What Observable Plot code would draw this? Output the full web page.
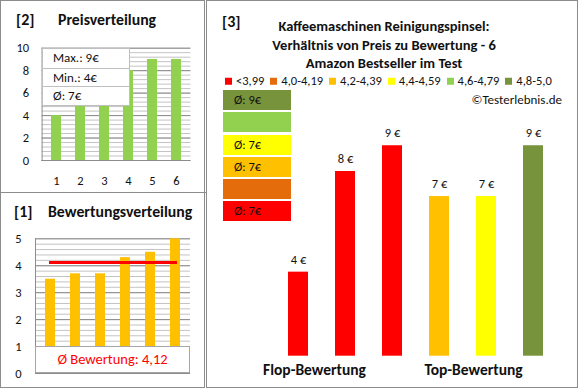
<!DOCTYPE html>
<html><head><meta charset="utf-8">
<script src="https://cdn.jsdelivr.net/npm/d3@7"></script>
<script src="https://cdn.jsdelivr.net/npm/@observablehq/plot@0.6"></script>
<style>
body{margin:0;background:#fff;}
#chart{position:relative;width:580px;height:390px;background:#fff;font-family:Carlito,Lato,"Noto Sans",sans-serif;color:#111;overflow:hidden}
.panel{position:absolute;box-sizing:border-box;border:1px solid #8c8c8c}
.plot{position:absolute}
.txt{position:absolute;white-space:nowrap;line-height:1;transform:translateY(-50%)}
.stats{position:absolute;left:42px;top:48px;width:88px;background:#fff;border:1px solid #bfbfbf;box-sizing:border-box}
.stats div{height:18.7px;line-height:18.7px;padding-left:10px;font-size:13px;border-top:1px solid #bfbfbf;box-sizing:border-box}
.stats div:first-child{border-top:none}
.avgbox{position:absolute;left:35px;top:345.5px;width:155px;height:27.5px;background:#fff;border:1px solid #a6a6a6;box-sizing:border-box;color:#FF0000;font-size:14.5px;text-align:center;line-height:25px}
.legend{position:absolute;left:225px;top:80.5px;transform:translateY(-50%);display:flex;gap:6px;font-size:12.5px;line-height:1}
.legend span.sw{display:inline-block;width:7px;height:7px;margin-right:4px;vertical-align:0px}
.classes{position:absolute;left:223px;top:90px;width:68px}
.classes div{height:20px;margin-bottom:2.3px;font-size:12.5px;line-height:20px;padding-left:11px;box-sizing:border-box}
</style></head><body><div id="chart"></div>
<script>
// ---- data ----
const priceCats = ["1","2","3","4","5","6"];
const priceValues = [4, 5, 5, 8, 9, 9];
const priceTicks = [0, 2, 4, 6, 8, 10];
const priceStats = ["Max.: 9€", "Min.: 4€", "Ø: 7€"];

const ratingCats = ["1","2","3","4","5","6"];
const ratingValues = [3.5, 3.7, 3.7, 4.3, 4.5, 5.0];
const ratingTicks = [0, 1, 2, 3, 4, 5];
const ratingAvg = 4.12;
const ratingAvgLabel = "Ø Bewertung: 4,12";

const productIds = ["P1","P2","P3","P4","P5","P6"];
const productPrices = [3.59, 7.89, 8.99, 6.82, 6.82, 8.99];
const productPriceLabels = ["4 €","8 €","9 €","7 €","7 €","9 €"];
const productColors = ["#FF0000","#FF0000","#FF0000","#FFC000","#FFFF00","#77933C"];
const groupNames = ["Flop-Bewertung","Top-Bewertung"];
const groupAnchors = ["P2","P5"];

const legendLabels = ["<3,99","4,0-4,19","4,2-4,39","4,4-4,59","4,6-4,79","4,8-5,0"];
const legendColors = ["#FF0000","#E46C0A","#FFC000","#FFFF00","#92D050","#77933C"];
const classAvgLabels = ["Ø: 7€","","Ø: 7€","Ø: 7€","","Ø: 9€"];

const titleLines = ["Kaffeemaschinen Reinigungspinsel:","Verhältnis von Preis zu Bewertung - 6","Amazon Bestseller im Test"];
const copyright = "©Testerlebnis.de";

// ---- layout ----
const chart = document.getElementById("chart");
const font = 'Carlito,Lato,"Noto Sans",sans-serif';
function panel(l,t,w,h){const d=document.createElement("div");d.className="panel";Object.assign(d.style,{left:l+"px",top:t+"px",width:w+"px",height:h+"px"});chart.appendChild(d);}
function txt(s,x,y,o={}){const d=document.createElement("div");d.className="txt";d.textContent=s;
  d.style.left=x+"px";d.style.top=y+"px";d.style.fontSize=(o.size||12)+"px";if(o.bold)d.style.fontWeight="700";
  if(o.color)d.style.color=o.color;if(o.center)d.style.transform="translate(-50%,-50%)";if(o.right)d.style.transform="translate(-100%,-50%)";
  chart.appendChild(d);return d;}
function put(svg,l,t){svg.classList.add("plot");svg.style.left=l+"px";svg.style.top=t+"px";chart.appendChild(svg);}

panel(0,0,205,388);
const sep=document.createElement("div");Object.assign(sep.style,{position:"absolute",left:"0px",top:"192px",width:"206px",height:"1px",background:"#8c8c8c"});chart.appendChild(sep);
panel(206,0,372,388);

const minor = "#c3c3c3", major = "#8c8c8c";
const baseStyle = {fontFamily: font, fontSize: "12px", color: "#111", background: "transparent", overflow: "visible"};

// Panel [2] price distribution
const pTable = priceCats.map((c,i)=>({c, v: priceValues[i]}));
put(Plot.plot({
  width: 204, height: 192, marginLeft: 41.6, marginRight: 13.6, marginTop: 47.7, marginBottom: 32,
  style: baseStyle,
  x: {domain: priceCats, paddingInner: 0.6, paddingOuter: 0.3},
  y: {domain: [0, 10]},
  marks: [
    Plot.gridY(d3.range(0, 10.001, 0.4), {stroke: minor, strokeOpacity: 1}),
    Plot.gridY(priceTicks, {stroke: major, strokeOpacity: 1}),
    Plot.barY(pTable, {x: "c", y: "v", fill: "#92D050"}),
    Plot.ruleY([0], {stroke: major}),
    Plot.frame({anchor: "left", stroke: major}),
    Plot.axisY({ticks: priceTicks, tickSize: 0, tickPadding: 13, label: null, fontSize: 12.5, tickFormat: d => String(d)}),
    Plot.axisX({tickSize: 0, tickPadding: 16, label: null, fontSize: 12.5})
  ]
}), 0, 0);
const st=document.createElement("div");st.className="stats";priceStats.forEach(s=>{const r=document.createElement("div");r.textContent=s;st.appendChild(r);});chart.appendChild(st);
txt("[2]",16,20,{size:16,bold:true});
txt("Preisverteilung",58,20,{size:15.8,bold:true});

// Panel [1] rating distribution
const rTable = ratingCats.map((c,i)=>({c, v: ratingValues[i]}));
put(Plot.plot({
  width: 204, height: 195, marginLeft: 35, marginRight: 14, marginTop: 46.3, marginBottom: 14,
  style: baseStyle,
  x: {domain: ratingCats, paddingInner: 0.6, paddingOuter: 0.3, axis: null},
  y: {domain: [0, 5]},
  marks: [
    Plot.gridY(d3.range(0, 5.001, 0.2), {stroke: minor, strokeOpacity: 1}),
    Plot.gridY(ratingTicks, {stroke: major, strokeOpacity: 1}),
    Plot.barY(rTable, {x: "c", y: "v", fill: "#FFC000"}),
    Plot.lineY(ratingCats, {x: d => d, y: () => ratingAvg, stroke: "#FF0000", strokeWidth: 3, strokeLinecap: "square"}),
    Plot.ruleY([0], {stroke: major}),
    Plot.frame({anchor: "left", stroke: major}),
    Plot.axisY({ticks: ratingTicks, tickSize: 0, tickPadding: 14, label: null, fontSize: 12.5, tickFormat: d => String(d)})
  ]
}), 0, 192);
const ab=document.createElement("div");ab.className="avgbox";ab.textContent=ratingAvgLabel;chart.appendChild(ab);
txt("[1]",14,212,{size:16,bold:true});
txt("Bewertungsverteilung",48,212,{size:15.8,bold:true});

// Panel [3] price vs rating
const prTable = productIds.map((id,i)=>({id, v: productPrices[i], label: productPriceLabels[i], color: productColors[i]}));
const gTable = groupNames.map((g,i)=>({id: groupAnchors[i], g}));
put(Plot.plot({
  width: 372, height: 388, marginLeft: 65.5, marginRight: 19, marginTop: 121.6, marginBottom: 32.3,
  style: baseStyle,
  x: {domain: productIds, paddingInner: 0.583, paddingOuter: 0.29, axis: null},
  y: {domain: [0, 10], axis: null},
  marks: [
    Plot.barY(prTable, {x: "id", y: "v", fill: "color"}),
    Plot.text(prTable, {x: "id", y: "v", text: "label", dy: -12.5, fontSize: 12.5, fill: "#111"}),
    Plot.text(gTable.slice(0, 1), {x: "id", text: "g", frameAnchor: "bottom", lineAnchor: "middle", dy: 13.5, dx: -31, fontSize: 15.5, fontWeight: "bold", fill: "#111"}),
    Plot.text(gTable.slice(1), {x: "id", text: "g", frameAnchor: "bottom", lineAnchor: "middle", dy: 13.5, dx: -13, fontSize: 15.5, fontWeight: "bold", fill: "#111"})
  ]
}), 206, 0);
txt("[3]",222,22,{size:16,bold:true});
titleLines.forEach((s,i)=>txt(s,384,26+i*18.7,{size:14.5,bold:true,center:true}));
const lg=document.createElement("div");lg.className="legend";
legendLabels.forEach((s,i)=>{const it=document.createElement("div");const sw=document.createElement("span");sw.className="sw";sw.style.background=legendColors[i];it.appendChild(sw);it.appendChild(document.createTextNode(s));lg.appendChild(it);});
chart.appendChild(lg);
txt(copyright,562,98.5,{size:13,right:true});
const cl=document.createElement("div");cl.className="classes";
legendColors.slice().reverse().forEach((c,i)=>{const r=document.createElement("div");r.style.background=c;r.textContent=classAvgLabels.slice().reverse()[i];cl.appendChild(r);});
chart.appendChild(cl);
</script></body></html>
